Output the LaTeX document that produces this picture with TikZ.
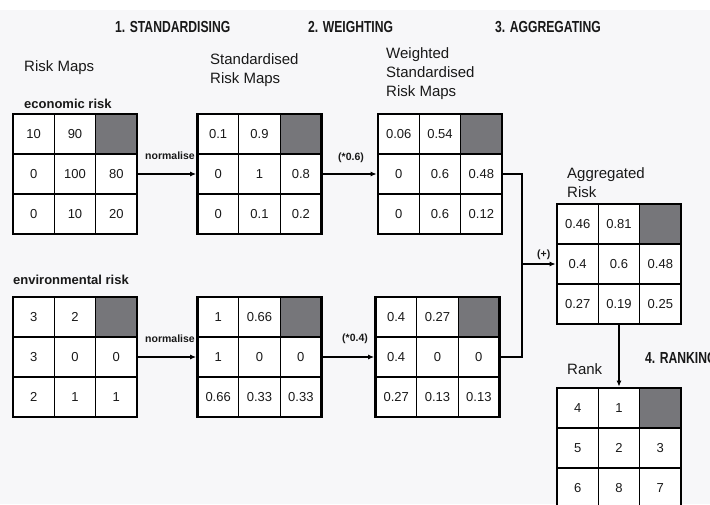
\documentclass[tikz,border=0pt]{standalone}
\usepackage{fontspec}
\setmainfont{Liberation Sans}
\newfontfamily\headfont{Liberation Sans}[FakeStretch=0.76]
\usetikzlibrary{arrows.meta,calc}
\definecolor{inkc}{RGB}{25,25,25}
\definecolor{cellg}{RGB}{118,118,122}
\definecolor{paper}{RGB}{247,247,249}

\tikzset{
 gridbox/.style={minimum width=124pt, minimum height=120pt, inner sep=0pt, outer sep=1.4pt, draw=none, fill=white},
 gridborder/.style={draw=black, line width=2.8pt},
 gridline/.style={draw=black, line width=1.2pt},
 cellgray/.style={fill=cellg},
 celltext/.style={font=\fontsize{13}{15}\selectfont, text=inkc, inner sep=0pt},
 heading/.style={font=\headfont\bfseries\fontsize{16}{19}\selectfont, anchor=base west, inner sep=0pt, text=inkc},
 title/.style={font=\fontsize{15}{19}\selectfont, align=left, anchor=north west, inner sep=0pt, text=inkc},
 maplabel/.style={font=\bfseries\fontsize{13}{15}\selectfont, anchor=base west, inner sep=0pt, text=inkc},
 oplabel/.style={font=\bfseries\fontsize{10.5}{12}\selectfont, anchor=base west, inner sep=0pt, text=inkc},
 conn/.style={draw=black, line width=1.1pt},
 arr/.style={conn, -{Latex[length=6pt,width=5pt]}},
}

\newcommand\riskgrid[3]{%
 \node[gridbox] (#1) at (#2) {};
 \begin{scope}[shift={(#2)}]
  \fill[cellgray] (20.67,-60) rectangle (62,-20);
  \draw[gridline] (-20.67,-60) -- (-20.67,60) (20.67,-60) -- (20.67,60)
                  (-62,-20) -- (62,-20) (-62,20) -- (62,20);
  \draw[gridborder] (-62,-60) rectangle (62,60);
  \foreach \v [count=\k from 0] in {#3} {
    \pgfmathtruncatemacro\cellpos{\k<2 ? \k : \k+1}
    \pgfmathtruncatemacro\cellrow{div(\cellpos,3)}
    \pgfmathtruncatemacro\cellcol{mod(\cellpos,3)}
    \node[celltext] (#1-\cellrow\cellcol) at ({(\cellcol-1)*41.33},{(\cellrow-1)*40}) {\v};
  }
 \end{scope}
}

\begin{document}
\begin{tikzpicture}[x=1pt,y=-1pt]
\useasboundingbox (0,0) rectangle (710,504);
\fill[paper] (0,10) rectangle (710,504);

% headings
\node[heading] (h1) at (115,32) {1. STANDARDISING};
\node[heading] (h2) at (308,32) {2. WEIGHTING};
\node[heading] (h3) at (495,32) {3. AGGREGATING};
\node[heading] (h4) at (645,363) {4. RANKING};

% titles
\node[title] (t1) at (24,60) {Risk Maps};
\node[title] (t2) at (210,53) {Standardised\\Risk Maps};
\node[title] (t3) at (386,47) {Weighted\\Standardised\\Risk Maps};
\node[title] (t4) at (567,167) {Aggregated\\Risk};
\node[title] (t5) at (567,363) {Rank};

\node[maplabel] (l1) at (24,108) {economic risk};
\node[maplabel] (l2) at (13,284) {environmental risk};

% grids
\riskgrid{eco}{75,174}{10,90,0,100,80,0,10,20}
\riskgrid{stdeco}{259.5,174}{0.1,0.9,0,1,0.8,0,0.1,0.2}
\riskgrid{weco}{440,174}{0.06,0.54,0,0.6,0.48,0,0.6,0.12}
\riskgrid{env}{75,357}{3,2,3,0,0,2,1,1}
\riskgrid{stdenv}{259.5,357}{1,0.66,1,0,0,0.66,0.33,0.33}
\riskgrid{wenv}{437.5,357}{0.4,0.27,0.4,0,0,0.27,0.13,0.13}
\riskgrid{agg}{619,264}{0.46,0.81,0.4,0.6,0.48,0.27,0.19,0.25}
\riskgrid{rank}{619,448}{4,1,5,2,3,6,8,7}

% connectors
\draw[arr] (eco) -- (stdeco);
\draw[arr] (stdeco) -- (weco);
\draw[arr] (env) -- (stdenv);
\draw[arr] (stdenv) -- (wenv);
\coordinate (join) at (522,264);
\draw[conn] (weco) -| (join);
\draw[conn] (wenv) -| (join);
\draw[arr] (join) -- (agg);
\draw[arr] (agg) -- (rank);

% operation labels
\node[oplabel] (n1) at (145,159) {normalise};
\node[oplabel] (n2) at (145,342) {normalise};
\node[oplabel] (w1) at (338,160) {(*0.6)};
\node[oplabel] (w2) at (342,341) {(*0.4)};
\node[oplabel] (pl) at (537,257) {(+)};
\end{tikzpicture}
\end{document}
